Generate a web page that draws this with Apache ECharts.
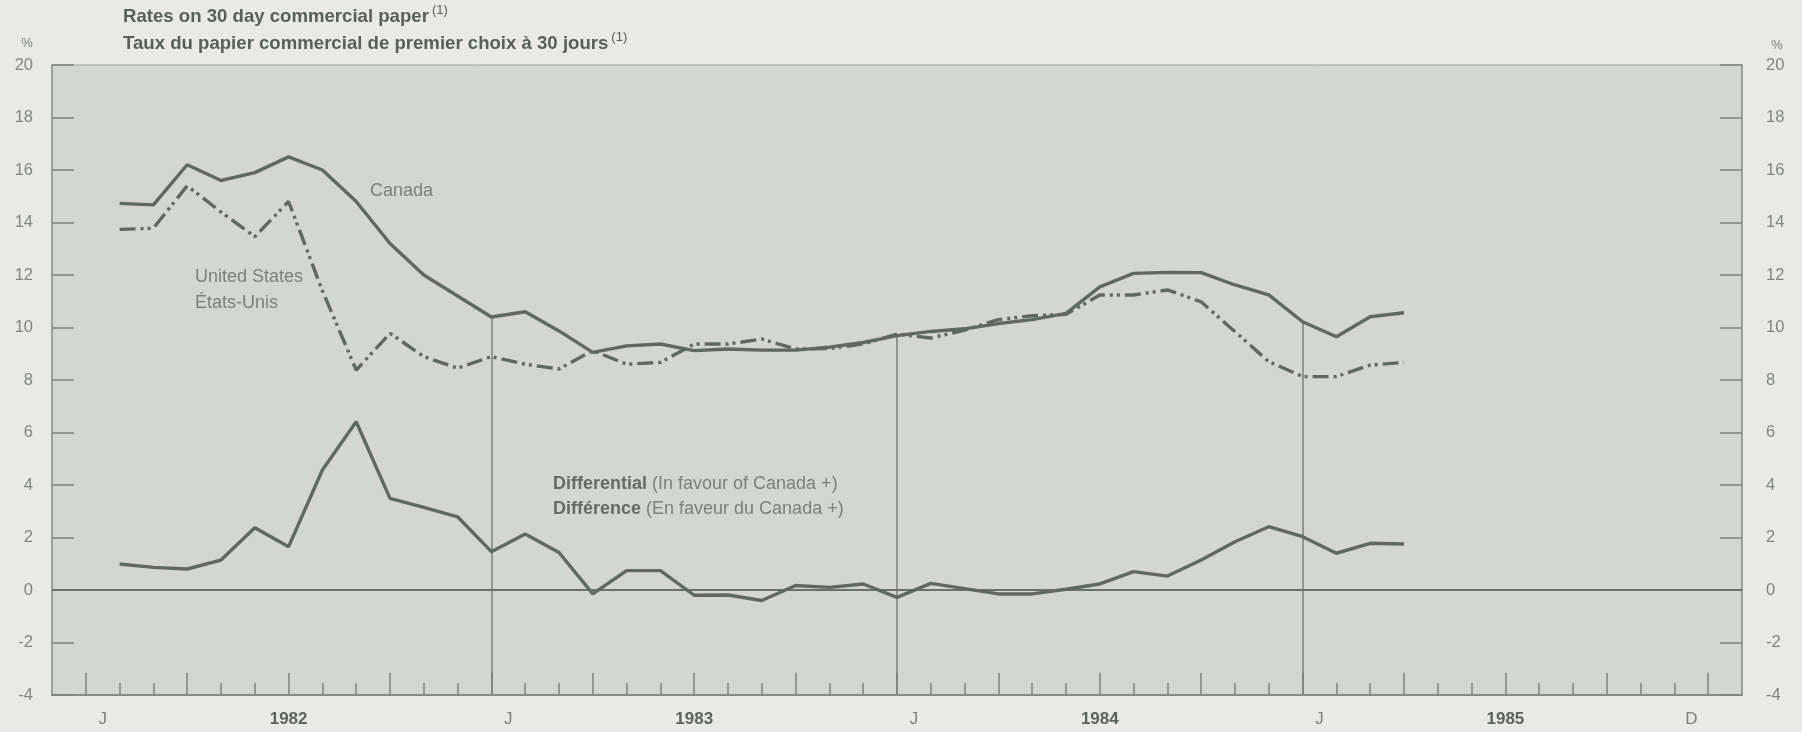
<!DOCTYPE html>
<html>
<head>
<meta charset="utf-8">
<script src="https://cdn.jsdelivr.net/npm/echarts@6/dist/echarts.min.js"></script>
<style>
html,body{margin:0;padding:0;background:#e9eae6;}
#chart{width:1802px;height:732px;}
</style>
</head>
<body>
<div id="chart"></div>
<script>
// Monthly averages, Jan 1982 .. Mar 1985 (plotted at month end)
const months = ['1982-01','1982-02','1982-03','1982-04','1982-05','1982-06','1982-07','1982-08','1982-09','1982-10','1982-11','1982-12',
  '1983-01','1983-02','1983-03','1983-04','1983-05','1983-06','1983-07','1983-08','1983-09','1983-10','1983-11','1983-12',
  '1984-01','1984-02','1984-03','1984-04','1984-05','1984-06','1984-07','1984-08','1984-09','1984-10','1984-11','1984-12',
  '1985-01','1985-02','1985-03'];
const canada = [14.73, 14.67, 16.2, 15.6, 15.9, 16.5, 16.0, 14.8, 13.2, 12.0, 11.2, 10.4,
  10.6, 9.87, 9.05, 9.3, 9.37, 9.12, 9.18, 9.14, 9.14, 9.25, 9.43, 9.69,
  9.85, 9.95, 10.15, 10.3, 10.54, 11.55, 12.06, 12.1, 12.09, 11.62, 11.24, 10.22,
  9.65, 10.41, 10.56];
const unitedStates = [13.74, 13.78, 15.4, 14.4, 13.46, 14.8, 11.4, 8.38, 9.78, 8.89, 8.45, 8.89,
  8.6, 8.42, 9.12, 8.6, 8.67, 9.37, 9.37, 9.56, 9.18, 9.2, 9.37, 9.75,
  9.6, 9.9, 10.3, 10.45, 10.5, 11.24, 11.24, 11.43, 10.98, 9.84, 8.7, 8.13,
  8.13, 8.57, 8.67];
const differential = [0.99, 0.86, 0.80, 1.14, 2.37, 1.65, 4.57, 6.41, 3.49, 3.15, 2.79, 1.46,
  2.13, 1.43, -0.15, 0.74, 0.74, -0.2, -0.19, -0.4, 0.17, 0.1, 0.23, -0.28,
  0.25, 0.05, -0.15, -0.15, 0.03, 0.23, 0.7, 0.53, 1.14, 1.84, 2.41, 2.03,
  1.4, 1.78, 1.75];

// x axis: months counted from the start of Dec 1981 (0) to the start of Jan 1986 (50)
const xLabelPos  = [1.5, 7, 13.5, 19, 25.5, 31, 37.5, 43, 48.5];
const xLabelText = ['J', '1982', 'J', '1983', 'J', '1984', 'J', '1985', 'D'];
const yearLineIndex = [11, 23, 35]; // December values end exactly at the Jan year boundary

const firstMonthPos = 2; // end of Jan 1982
const toPoints = arr => arr.map((v, i) => [i + firstMonthPos, v]);

const tallTicks = [], shortTicks = [];
for (let m = 1; m <= 49; m++) {
  if ((m - 1) % 3 === 0) tallTicks.push(m); else shortTicks.push(m);
}

const LINE = '#5f6861';
const FONT = '"Liberation Sans", Arial, sans-serif';

const chart = echarts.init(document.getElementById('chart'), null, {renderer: 'canvas'});

const baseX = {
  type: 'value', min: 0, max: 50, position: 'bottom',
  splitLine: {show: false}
};

const titleRich = {
  m: {fontFamily: FONT, fontSize: 18.6, fontWeight: 'bold', fill: '#585e59', verticalAlign: 'bottom', lineHeight: 22},
  s: {fontFamily: FONT, fontSize: 13, fill: '#585e59', verticalAlign: 'top', padding: [0, 0, 0, 3]}
};

const option = {
  backgroundColor: '#e9eae6',
  animation: false,
  grid: {left: 52, right: 60, top: 65, bottom: 37, show: true,
    backgroundColor: '#d4d7d1', borderColor: '#9ea29c', borderWidth: 1},
  xAxis: [
    Object.assign({}, baseX, {
      axisLine: {show: true, onZero: false, lineStyle: {color: '#868b85', width: 2}},
      axisTick: {show: true, inside: true, length: 12, customValues: shortTicks,
        lineStyle: {color: '#7f847e', width: 1.5}},
      axisLabel: {
        customValues: xLabelPos, margin: 16, fontFamily: FONT, fontSize: 17, color: '#7d827c',
        formatter: v => {
          const k = xLabelPos.findIndex(p => Math.abs(p - v) < 1e-6);
          if (k < 0) return '';
          const t = xLabelText[k];
          return /^\d+$/.test(t) ? '{y|' + t + '}' : t;
        },
        rich: {y: {fontFamily: FONT, fontSize: 17, fontWeight: 'bold', color: '#5c625c'}}
      }
    }),
    Object.assign({}, baseX, {
      axisLine: {show: false, onZero: false},
      axisTick: {show: true, inside: true, length: 22, customValues: tallTicks,
        lineStyle: {color: '#7f847e', width: 1.5}},
      axisLabel: {show: false}
    })
  ],
  yAxis: [
    {type: 'value', min: -4, max: 20, interval: 2, position: 'left',
      axisLine: {show: true, onZero: false, lineStyle: {color: '#8f948e', width: 1.5}},
      axisTick: {show: true, inside: true, length: 22, lineStyle: {color: '#7f847e', width: 1.5}},
      axisLabel: {margin: 19, fontFamily: FONT, fontSize: 16.5, color: '#80857f'},
      splitLine: {show: false}},
    {type: 'value', min: -4, max: 20, interval: 2, position: 'right',
      axisLine: {show: true, onZero: false, lineStyle: {color: '#8f948e', width: 1.5}},
      axisTick: {show: true, inside: true, length: 22, lineStyle: {color: '#7f847e', width: 1.5}},
      axisLabel: {margin: 24, fontFamily: FONT, fontSize: 16.5, color: '#80857f'},
      splitLine: {show: false}}
  ],
  series: [
    {name: 'Canada', type: 'line', data: toPoints(canada), showSymbol: false, z: 5,
      lineStyle: {color: LINE, width: 3.4}, itemStyle: {color: LINE},
      markLine: {silent: true, symbol: 'none', label: {show: false},
        lineStyle: {color: '#7b807a', width: 1.5, type: 'solid'},
        data: yearLineIndex.map(i => [{coord: [i + firstMonthPos, canada[i]]}, {coord: [i + firstMonthPos, -4]}])}},
    {name: 'United States', type: 'line', data: toPoints(unitedStates), showSymbol: false, z: 5,
      lineStyle: {color: LINE, width: 3.4, type: [16, 5, 3, 4, 3, 5]}, itemStyle: {color: LINE}},
    {name: 'Differential', type: 'line', data: toPoints(differential), showSymbol: false, z: 5,
      lineStyle: {color: LINE, width: 3.4}, itemStyle: {color: LINE},
      markLine: {silent: true, symbol: 'none', label: {show: false},
        lineStyle: {color: '#6b716b', width: 2, type: 'solid'},
        data: [{yAxis: 0}]}}
  ],
  graphic: [
    {type: 'text', x: 123, y: 15, style: {
      text: '{m|Rates on 30 day commercial paper}{s|(1)}', verticalAlign: 'middle', rich: titleRich}},
    {type: 'text', x: 123, y: 42, style: {
      text: '{m|Taux du papier commercial de premier choix à 30 jours}{s|(1)}', verticalAlign: 'middle', rich: titleRich}},
    {type: 'text', x: 27, y: 43, style: {text: '%', fontFamily: FONT, fontSize: 13, fill: '#7d827c', align: 'center', verticalAlign: 'middle'}},
    {type: 'text', x: 1777, y: 45, style: {text: '%', fontFamily: FONT, fontSize: 13, fill: '#7d827c', align: 'center', verticalAlign: 'middle'}},
    {type: 'text', x: 370, y: 191, style: {text: 'Canada', fontFamily: FONT, fontSize: 18, fill: '#7b807a', verticalAlign: 'middle'}},
    {type: 'text', x: 195, y: 277, style: {text: 'United States', fontFamily: FONT, fontSize: 18, fill: '#7b807a', verticalAlign: 'middle'}},
    {type: 'text', x: 195, y: 303, style: {text: 'États-Unis', fontFamily: FONT, fontSize: 18, fill: '#7b807a', verticalAlign: 'middle'}},
    {type: 'text', x: 553, y: 484, style: {
      text: '{b|Differential} (In favour of Canada +)', fontFamily: FONT, fontSize: 18, fill: '#7b807a', verticalAlign: 'middle',
      rich: {b: {fontFamily: FONT, fontSize: 18, fontWeight: 'bold', fill: '#656b65'}}}},
    {type: 'text', x: 553, y: 509, style: {
      text: '{b|Différence} (En faveur du Canada +)', fontFamily: FONT, fontSize: 18, fill: '#7b807a', verticalAlign: 'middle',
      rich: {b: {fontFamily: FONT, fontSize: 18, fontWeight: 'bold', fill: '#656b65'}}}}
  ]
};
chart.setOption(option);
</script>
</body>
</html>
